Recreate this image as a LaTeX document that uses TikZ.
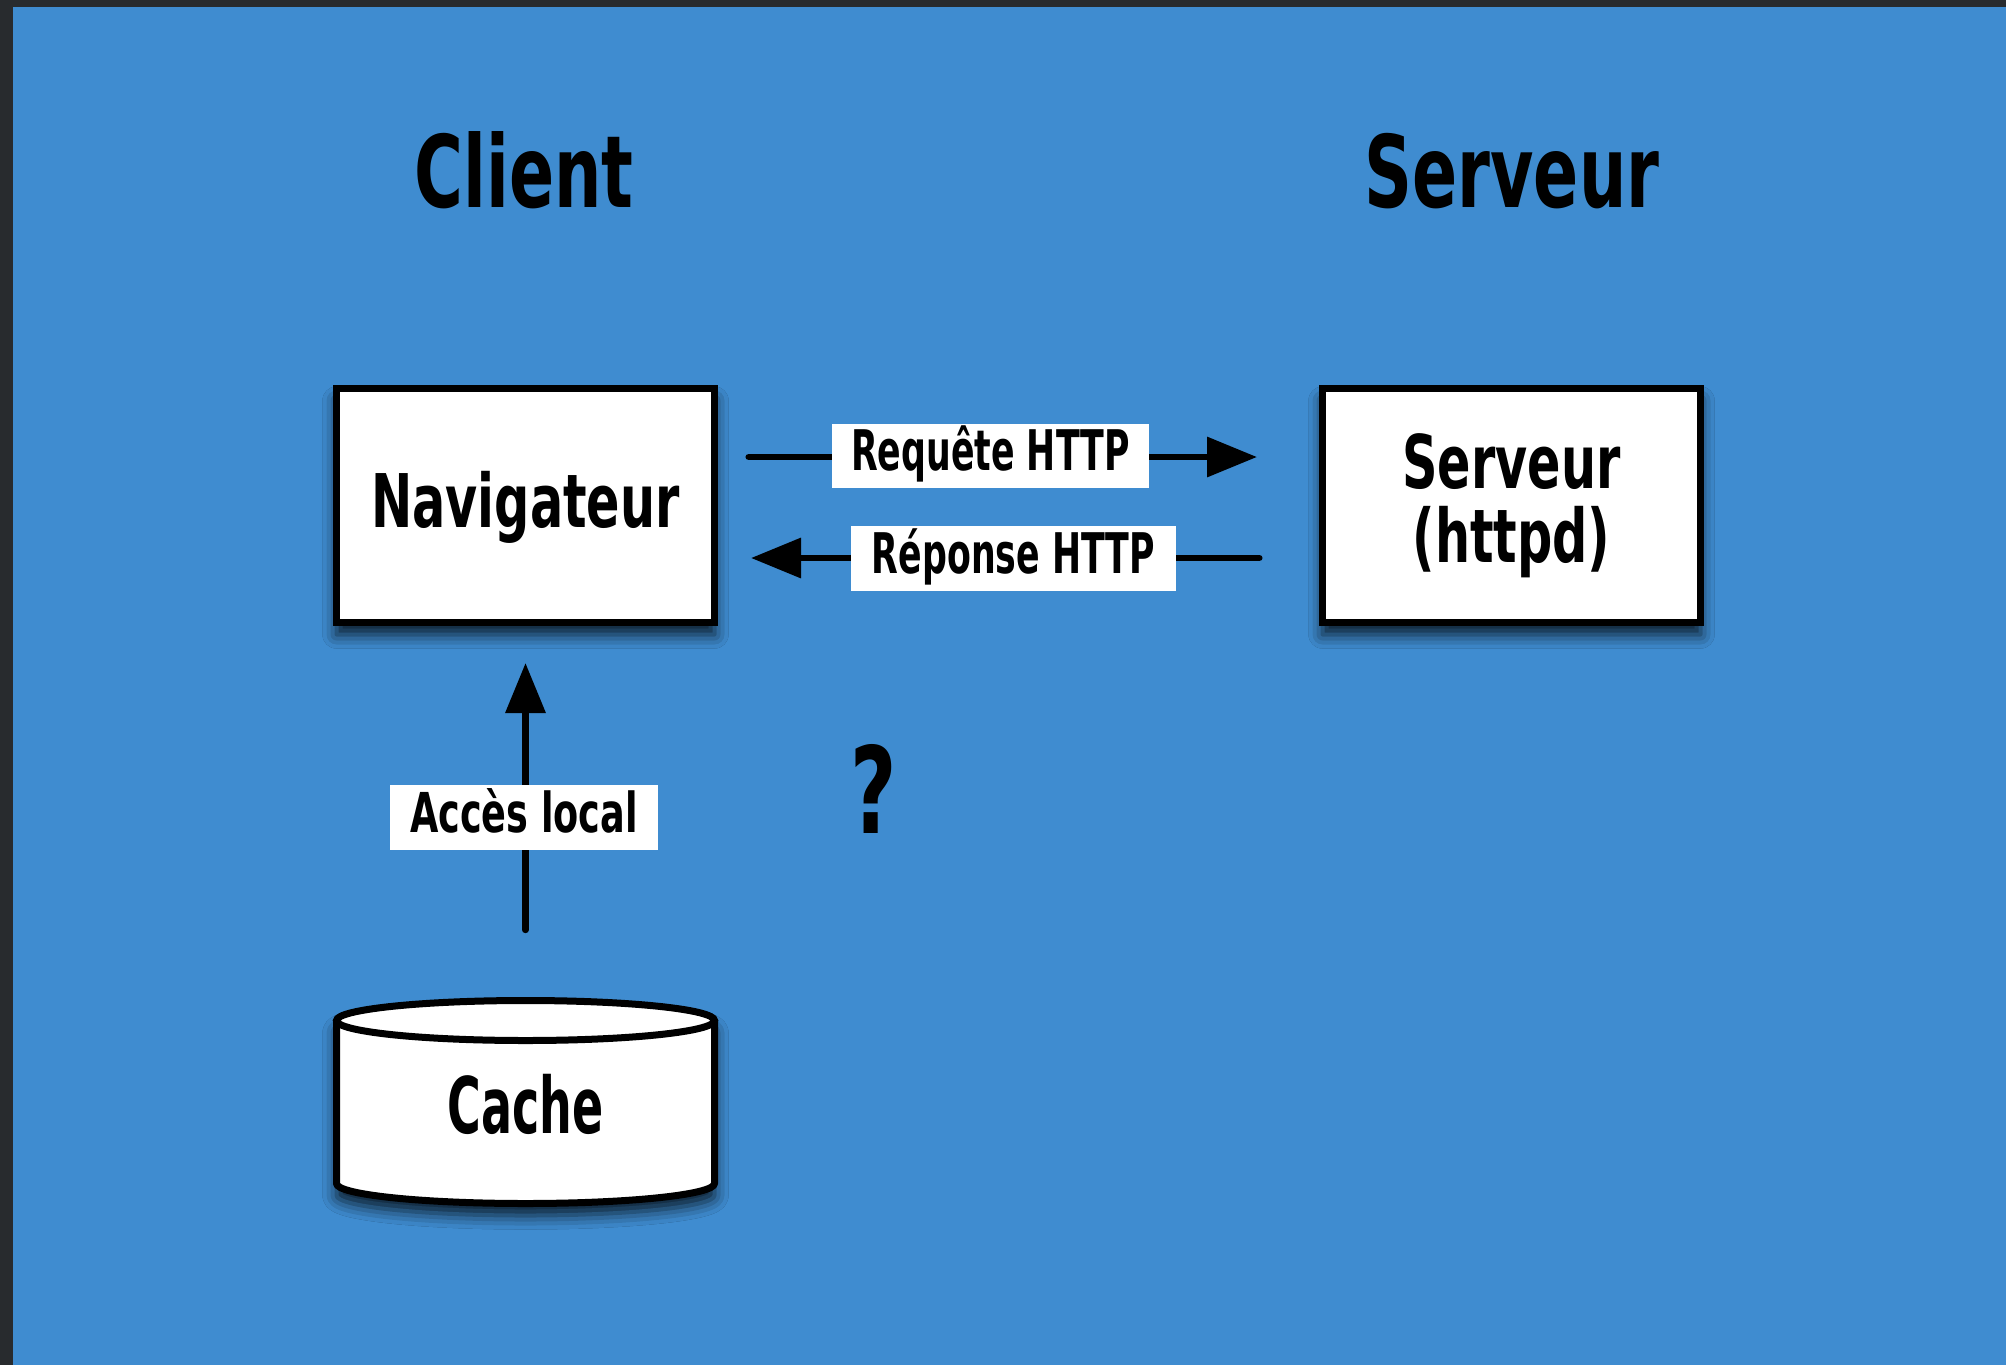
\documentclass[tikz,border=0pt]{standalone}
\usepackage{fontspec}
\newfontfamily\hand{DejaVu Sans Condensed Bold}[FakeStretch=0.74]
\newfontfamily\handnarrow{DejaVu Sans Condensed Bold}[FakeStretch=0.69]
\usetikzlibrary{arrows.meta,shadows.blur}
\definecolor{slideblue}{RGB}{63,140,208}
\definecolor{slideframe}{RGB}{40,43,46}
\begin{document}
\begin{tikzpicture}[x=0.5pt,y=-0.5pt,font=\hand,
  softshadow/.style={blur shadow={shadow xshift=0pt,shadow yshift=-6pt,
      shadow blur radius=7pt,shadow opacity=80}},
  box/.style={draw=black,line width=3.5pt,fill=white,minimum width=189pt,
      minimum height=117pt,inner sep=0pt,outer sep=0pt,softshadow},
  tag/.style={fill=white,inner sep=0pt,outer sep=0pt,
      font=\hand\fontsize{27.5}{28}\selectfont,text height=20pt,text depth=6pt},
  httptag/.style={tag,font=\handnarrow\fontsize{28}{29}\selectfont},
  title/.style={anchor=base,font=\hand\fontsize{50}{50}\selectfont},
  flow/.style={draw=black,line width=3.25pt,line cap=round,opacity=1,
      -{Triangle[length=25pt,width=19.5pt,fill=black]}}]

% slide background and dark frame
\fill[slideframe] (0,0) rectangle (2006,1365);
\fill[slideblue] (13,7) rectangle (2006,1365);
\useasboundingbox (0,0) rectangle (2006,1365);

% column titles
\node[title] (tclient) at (524,207) {Client};
\node[title] (tserver) at (1512,207) {Serveur};

% browser and server boxes
\node[box,font=\hand\fontsize{37}{37}\selectfont,text height=30pt,text depth=8.5pt]
  (nav) at (525.5,505.5) {Navigateur};
\node[box,font=\hand\fontsize{37}{37}\selectfont,align=center]
  (srv) at (1511.5,505.5) {Serveur\\(httpd)};

% cache cylinder
\path[fill=white,softshadow] (336.5,1020.5) -- (336.5,1183.5)
  arc[start angle=180,end angle=360,x radius=94.5pt,y radius=10pt]
  -- (714.5,1020.5)
  arc[start angle=0,end angle=180,x radius=94.5pt,y radius=10pt] -- cycle;
\draw[line width=3.5pt,line join=round] (336.5,1020.5) -- (336.5,1183.5)
  arc[start angle=180,end angle=360,x radius=94.5pt,y radius=10pt]
  -- (714.5,1020.5);
\draw[line width=3.5pt] (525.5,1020.5) ellipse[x radius=94.5pt,y radius=10pt];
\node[anchor=base,font=\hand\fontsize{39}{39}\selectfont] (cache) at (525.5,1133)
  {\scalebox{0.885}[1]{Cache}};

% request / response arrows
\draw[flow,shorten <=17.1pt,shorten >=32.75pt]
  ([yshift=24.25pt]nav.east) -- ([yshift=24.25pt]srv.west);
\node[httptag,minimum width=158.5pt,minimum height=32pt] (req) at (990.5,456) {Requête HTTP};
\draw[flow,shorten <=31.6pt,shorten >=18.25pt]
  ([yshift=-26.25pt]srv.west) -- ([yshift=-26.25pt]nav.east);
\node[httptag,minimum width=162.5pt,minimum height=32.5pt,text depth=5.5pt] (rep) at (1013.5,558.5) {Réponse HTTP};

% local access from the cache
\draw[flow,shorten <=87pt,shorten >=20.25pt] (cache.center) -- (nav.south);
\node[tag,minimum width=134pt,minimum height=32.5pt,text depth=5.5pt] (acc) at (524,817.5) {Accès local};

% open question
\node[anchor=base,font=\hand\fontsize{60}{60}\selectfont] (q) at (874,833) {?};
\end{tikzpicture}
\end{document}
